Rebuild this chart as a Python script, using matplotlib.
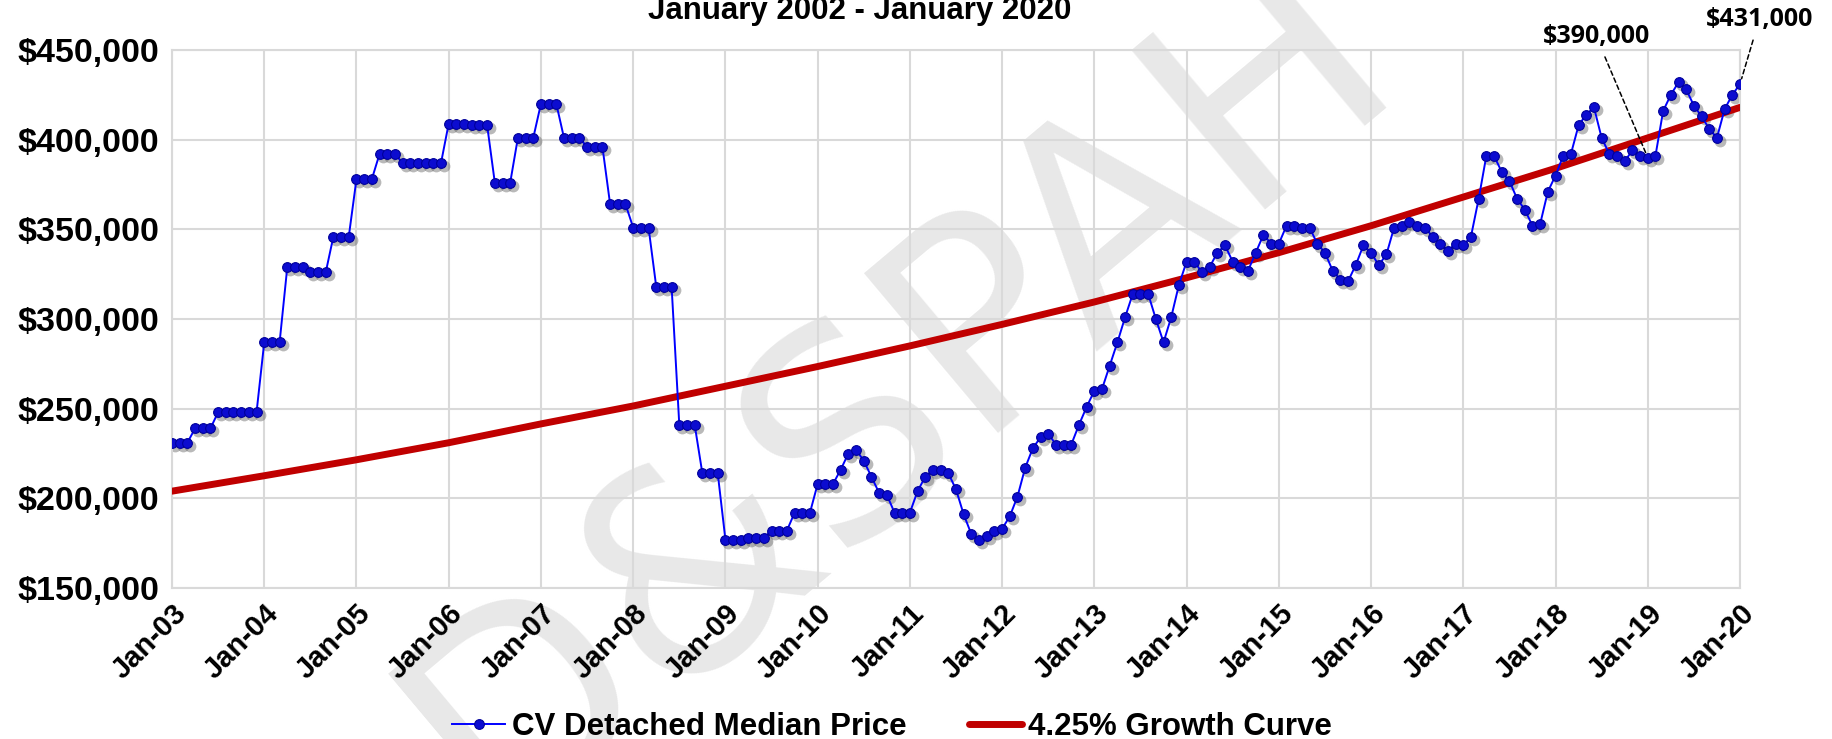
"""
CV detached median price vs. a 4.25% growth curve, Jan-03 to Jan-20.
"""

import numpy as np
import matplotlib
matplotlib.use("Agg")
import matplotlib.pyplot as plt
from matplotlib.ticker import FuncFormatter
from matplotlib.transforms import offset_copy

plt.rcParams["font.family"] = ["Liberation Sans", "DejaVu Sans"]

TITLE = "January 2002 - January 2020"
WATERMARK = "D&SPAH"

# monthly median price, $ thousands (quarterly steps until early 2010)
price_2003 = [231, 231, 231, 239, 239, 239, 248, 248, 248, 248, 248, 248]
price_2004 = [287, 287, 287, 329, 329, 329, 326, 326, 326, 346, 346, 346]
price_2005 = [378, 378, 378, 392, 392, 392, 387, 387, 387, 387, 387, 387]
price_2006 = [409, 409, 409, 408, 408, 408, 376, 376, 376, 401, 401, 401]
price_2007 = [420, 420, 420, 401, 401, 401, 396, 396, 396, 364, 364, 364]
price_2008 = [351, 351, 351, 318, 318, 318, 241, 241, 241, 214, 214, 214]
price_2009 = [177, 177, 177, 178, 178, 178, 182, 182, 182, 192, 192, 192]
price_2010 = [208, 208, 208, 216, 225, 227, 221, 212, 203, 202, 192, 192]
price_2011 = [192, 204, 212, 216, 216, 214, 205, 191, 180, 177, 179, 182]
price_2012 = [183, 190, 201, 217, 228, 234, 236, 230, 230, 230, 241, 251]
price_2013 = [260, 261, 274, 287, 301, 314, 314, 314, 300, 287, 301, 319]
price_2014 = [332, 332, 326, 329, 337, 341, 332, 329, 327, 337, 347, 342]
price_2015 = [342, 352, 352, 351, 351, 342, 337, 327, 322, 321, 330, 341]
price_2016 = [337, 330, 336, 351, 352, 354, 352, 351, 346, 342, 338, 342]
price_2017 = [341, 346, 367, 391, 391, 382, 377, 367, 361, 352, 353, 371]
price_2018 = [380, 391, 392, 408, 414, 418, 401, 392, 391, 388, 394, 391]
price_2019 = [390, 391, 416, 425, 432, 428, 419, 413, 406, 401, 417, 425]
price_2020 = [431]

growth_curve = [204, 212.6, 221.5, 231, 241.5, 251.5, 262.5, 273.5, 285,
                297, 309.5, 323, 337, 352, 368, 384, 401, 418]

year_labels = ["Jan-03", "Jan-04", "Jan-05", "Jan-06", "Jan-07", "Jan-08",
               "Jan-09", "Jan-10", "Jan-11", "Jan-12", "Jan-13", "Jan-14",
               "Jan-15", "Jan-16", "Jan-17", "Jan-18", "Jan-19", "Jan-20"]
y_ticks = [150000, 200000, 250000, 300000, 350000, 400000, 450000]

# callouts: (label, month index of the point)
callouts = [("$390,000", 192), ("$431,000", 204)]


def main():
    median_price = np.array(
        price_2003 + price_2004 + price_2005 + price_2006 + price_2007
        + price_2008 + price_2009 + price_2010 + price_2011 + price_2012
        + price_2013 + price_2014 + price_2015 + price_2016 + price_2017
        + price_2018 + price_2019 + price_2020) * 1000
    months = np.arange(len(median_price))
    growth = np.array(growth_curve) * 1000
    growth_months = np.arange(len(growth)) * 12

    fig = plt.figure(figsize=(18.32, 7.39), dpi=100)
    ax = fig.add_axes([172 / 1832, 1 - 588 / 739, 1568 / 1832, 538 / 739])
    ax.patch.set_alpha(0)

    # faint watermark behind everything
    fig.text(0.49, 0.47, WATERMARK, fontsize=205, color="#e8e8e8",
             rotation=40, ha="center", va="center", zorder=-1,
             family="DejaVu Sans")

    # ── median price: blue line, markers with soft drop shadow ────────────
    shadow = offset_copy(ax.transData, fig=fig, x=3, y=-3, units="dots")
    ax.plot(months, median_price, ls="none", marker="o", ms=8.5,
            color="#505050", alpha=0.4, mec="none", transform=shadow,
            zorder=2.5)
    ax.plot(months, median_price, color="#0000ff", lw=1.4, marker="o",
            ms=7, mfc="#0c0cd0", mec="#00009a", mew=0.8,
            label="CV Detached Median Price", zorder=3)

    # ── growth curve ───────────────────────────────────────────────────────
    ax.plot(growth_months, growth, color="#c00000", lw=5,
            solid_capstyle="round", label="4.25% Growth Curve", zorder=2.8)

    ax.set_xlim(0, 204)
    ax.set_ylim(150000, 450000)
    ax.set_xticks(growth_months)
    ax.set_xticklabels(year_labels, rotation=45, ha="right",
                       rotation_mode="anchor", fontsize=21,
                       fontweight="bold")
    ax.set_yticks(y_ticks)
    ax.yaxis.set_major_formatter(FuncFormatter(lambda v, _: f"${v:,.0f}"))
    for lab in ax.get_yticklabels():
        lab.set_fontsize(24.5)
        lab.set_fontweight("bold")
    ax.tick_params(axis="y", length=0, pad=9)
    ax.tick_params(axis="x", length=0, pad=8)

    ax.grid(color="#d9d9d9", lw=1.5)
    ax.set_axisbelow(True)
    for s in ax.spines.values():
        s.set_color("#d9d9d9")
        s.set_linewidth(1.5)

    # callouts with dashed leader lines
    text_pos = [(185.3, 457500), (206.5, 467000)]
    for (label, idx), pos in zip(callouts, text_pos):
        ax.annotate(label, xy=(idx, median_price[idx]), xytext=pos,
                    ha="center", va="center", fontsize=18,
                    fontweight="bold", family="Open Sans",
                    arrowprops=dict(arrowstyle="-", ls=(0, (3, 2)), lw=1.1,
                                    color="black", shrinkA=4, shrinkB=4),
                    annotation_clip=False)

    fig.text(860 / 1832, 1 - 19 / 739, TITLE, ha="center", va="baseline",
             fontsize=22.5, fontweight="bold")

    handles, labels = ax.get_legend_handles_labels()
    fig.legend(handles, labels, loc="center",
               bbox_to_anchor=(892 / 1832, 1 - 727 / 739), ncol=2,
               frameon=False, prop=dict(size=22.5, weight="bold"),
               handlelength=1.7, handletextpad=0.2, columnspacing=2.0)

    fig.savefig("out.png", dpi=100)


if __name__ == "__main__":
    main()
